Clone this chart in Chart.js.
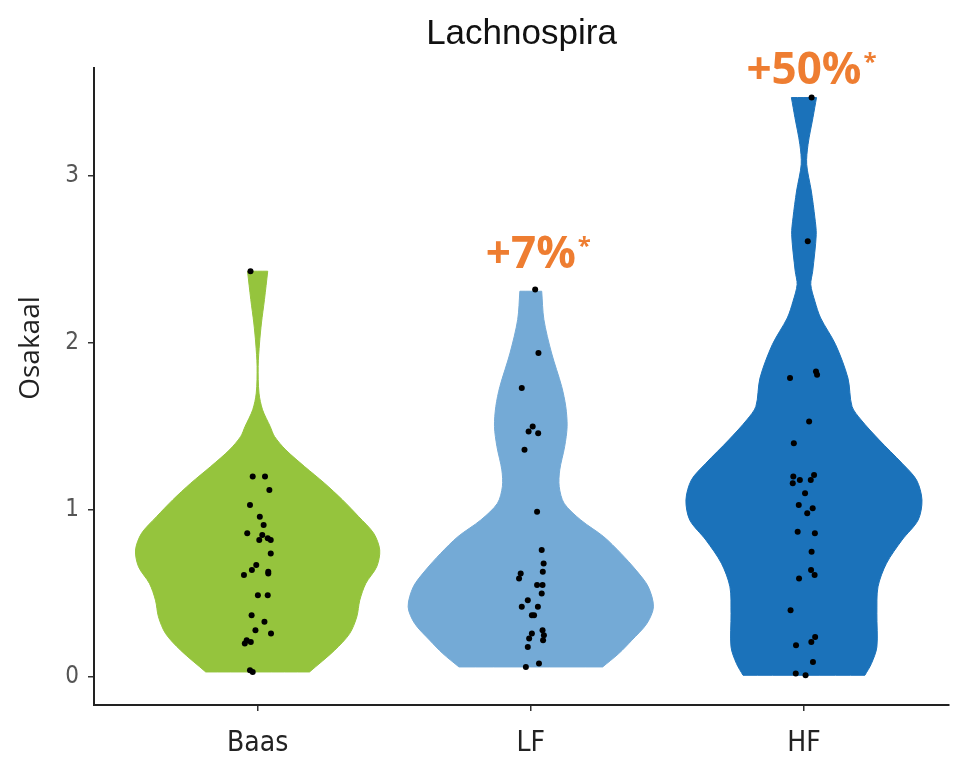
<!DOCTYPE html>
<html>
<head>
<meta charset="utf-8">
<script src="https://cdn.jsdelivr.net/npm/chart.js@4.4.1/dist/chart.umd.min.js"></script>
<style>
	html, body { margin: 0; padding: 0; background: #fff; overflow: hidden; }
	#wrap { width: 953px; height: 760px; }
</style>
</head>
<body>
<div id="wrap"><canvas id="violinChart"></canvas></div>
<script>
const groups = ["Baas", "LF", "HF"];
const yTicks = [0, 1, 2, 3];
const groupColors = ["#95C43D", "#74AAD6", "#1B72BA"];

// violin outlines: heights (top -> bottom) and half widths in x units
const baasLevels = [2.43, 2.26, 2.12, 2.0, 1.86, 1.7, 1.6, 1.5, 1.44, 1.36, 1.26, 1.16, 1.06, 0.96, 0.86, 0.76, 0.66, 0.56, 0.46, 0.36, 0.26, 0.16, 0.03];
const baasWidth = [0.037, 0.025, 0.014, 0.007, 0.002, 0.005, 0.018, 0.046, 0.062, 0.103, 0.172, 0.245, 0.311, 0.37, 0.425, 0.447, 0.436, 0.396, 0.374, 0.363, 0.337, 0.282, 0.19];
const lfLevels = [2.31, 2.14, 1.94, 1.74, 1.62, 1.5, 1.38, 1.24, 1.14, 1.04, 0.94, 0.84, 0.74, 0.64, 0.54, 0.42, 0.32, 0.22, 0.14, 0.06];
const lfWidth = [0.04, 0.048, 0.076, 0.113, 0.128, 0.133, 0.124, 0.106, 0.104, 0.122, 0.183, 0.267, 0.33, 0.385, 0.43, 0.449, 0.425, 0.37, 0.322, 0.263];
const hfLevels = [3.47, 3.35, 3.19, 3.07, 2.91, 2.75, 2.65, 2.43, 2.35, 2.25, 2.15, 1.99, 1.79, 1.62, 1.54, 1.42, 1.28, 1.18, 1.06, 0.94, 0.82, 0.68, 0.54, 0.38, 0.18, 0.08, 0.01];
const hfWidth = [0.046, 0.033, 0.015, 0.01, 0.027, 0.04, 0.045, 0.032, 0.025, 0.04, 0.061, 0.116, 0.161, 0.176, 0.209, 0.275, 0.359, 0.412, 0.432, 0.418, 0.359, 0.302, 0.271, 0.267, 0.267, 0.247, 0.223];

// individual samples and their horizontal jitter
const baasValues = [2.43, 1.2, 1.2, 1.12, 1.03, 0.96, 0.91, 0.86, 0.85, 0.82, 0.83, 0.82, 0.74, 0.67, 0.64, 0.61, 0.63, 0.62, 0.49, 0.49, 0.37, 0.33, 0.28, 0.26, 0.22, 0.2, 0.21, 0.04, 0.03];
const baasJitter = [-0.026, -0.018, 0.027, 0.043, -0.028, 0.008, 0.022, -0.038, 0.017, 0.006, 0.037, 0.048, 0.048, -0.005, -0.021, -0.05, 0.039, 0.039, 0.001, 0.037, -0.022, 0.025, -0.008, 0.049, -0.04, -0.047, -0.025, -0.028, -0.018];
const lfValues = [2.32, 1.94, 1.73, 1.5, 1.47, 1.46, 1.36, 0.99, 0.76, 0.68, 0.63, 0.62, 0.59, 0.55, 0.55, 0.5, 0.46, 0.42, 0.42, 0.37, 0.37, 0.28, 0.26, 0.25, 0.23, 0.22, 0.18, 0.08, 0.06];
const lfJitter = [0.016, 0.028, -0.033, 0.007, -0.008, 0.027, -0.023, 0.023, 0.04, 0.047, 0.044, -0.037, -0.043, 0.023, 0.043, 0.04, -0.011, -0.033, 0.026, 0.004, 0.012, 0.043, 0.004, 0.048, -0.006, 0.045, -0.011, 0.03, -0.018];
const hfValues = [3.47, 2.61, 1.79, 1.83, 1.81, 1.53, 1.4, 1.2, 1.16, 1.18, 1.18, 1.21, 1.1, 1.03, 1.01, 0.98, 0.87, 0.86, 0.75, 0.64, 0.61, 0.59, 0.4, 0.24, 0.21, 0.19, 0.09, 0.02, 0.01];
const hfJitter = [0.028, 0.014, -0.051, 0.044, 0.048, 0.019, -0.037, -0.039, -0.041, -0.015, 0.025, 0.037, 0.004, -0.019, 0.032, 0.012, -0.023, 0.04, 0.028, 0.026, 0.039, -0.018, -0.049, 0.041, 0.027, -0.029, 0.033, -0.03, 0.006];

// change vs Baas, shown above the violins
const changeText = ["", "+7%", "+50%"];
const changeY = [null, 2.45, 3.55];

function outline(center, levels, widths) {
	const pts = [];
	const last = levels.length - 1;
	// corner points are doubled so the spline keeps the flat ends square
	pts.push({ x: center - widths[last], y: levels[last] });
	for (let i = last; i >= 0; i--) {
		pts.push({ x: center - widths[i], y: levels[i] });
	}
	pts.push({ x: center - widths[0], y: levels[0] });
	pts.push({ x: center + widths[0], y: levels[0] });
	for (let i = 0; i <= last; i++) {
		pts.push({ x: center + widths[i], y: levels[i] });
	}
	pts.push({ x: center + widths[last], y: levels[last] });
	pts.push(pts[0]);
	return pts;
}

function samples(center, values, jitter) {
	return values.map((v, i) => ({ x: center + jitter[i], y: v }));
}

const violins = [
	outline(1, baasLevels, baasWidth),
	outline(2, lfLevels, lfWidth),
	outline(3, hfLevels, hfWidth),
];
const dots = [].concat(
	samples(1, baasValues, baasJitter),
	samples(2, lfValues, lfJitter),
	samples(3, hfValues, hfJitter),
);

const datasets = violins.map((pts, i) => ({
	label: groups[i],
	data: pts,
	showLine: true,
	fill: "shape",
	tension: 0.3,
	pointRadius: 0,
	borderWidth: 1,
	borderColor: groupColors[i],
	backgroundColor: groupColors[i],
	order: 2,
}));
datasets.push({
	label: "samples",
	data: dots,
	pointRadius: 3,
	pointBackgroundColor: "#000",
	pointBorderWidth: 0,
	showLine: false,
	order: 0,
});

const extraText = {
	id: "extraText",
	afterDatasetsDraw(chart) {
		const { ctx, scales } = chart;
		ctx.save();
		ctx.fillStyle = "#EE7D31";
		ctx.textBaseline = "alphabetic";
		for (let i = 0; i < groups.length; i++) {
			if (!changeText[i]) continue;
			const cx = scales.x.getPixelForValue(i + 1);
			const cy = scales.y.getPixelForValue(changeY[i]);
			ctx.font = 'bold 44px "Open Sans"';
			ctx.textAlign = "center";
			ctx.fillText(changeText[i], cx, cy);
			const w = ctx.measureText(changeText[i]).width;
			ctx.font = 'bold 24px "Open Sans"';
			ctx.textAlign = "left";
			ctx.fillText("*", cx + w / 2 + 2, cy - 14);
		}
		// y axis title
		ctx.translate(31, 348);
		ctx.rotate(-Math.PI / 2);
		ctx.fillStyle = "#222";
		ctx.font = '28px "Open Sans"';
		ctx.textAlign = "center";
		ctx.textBaseline = "middle";
		ctx.fillText("Osakaal", 0, 0);
		ctx.restore();
	},
};

const ctx = document.getElementById("violinChart");
new Chart(ctx, {
	type: "scatter",
	data: { datasets: datasets },
	options: {
		responsive: true,
		maintainAspectRatio: false,
		animation: false,
		layout: { padding: 0 },
		plugins: {
			legend: { display: false },
			tooltip: { enabled: false },
			title: {
				display: true,
				fullSize: false,
				text: "Lachnospira",
				color: "#111",
				font: { family: '"Liberation Sans", Arial', size: 35, weight: "normal" },
				padding: { top: 13, bottom: 13 },
			},
		},
		scales: {
			x: {
				type: "linear",
				min: 0.401,
				max: 3.531,
				afterBuildTicks: (scale) => {
					scale.ticks = groups.map((g, i) => ({ value: i + 1 }));
				},
				afterFit: (scale) => {
					scale.height = 55;
				},
				ticks: {
					autoSkip: false,
					maxRotation: 0,
					padding: 16,
					color: "#222",
					font: { family: '"Liberation Sans Narrow", "DejaVu Sans Condensed", sans-serif', size: 28 },
					callback: (v) => groups[v - 1],
				},
				grid: { drawOnChartArea: false, drawTicks: true, tickLength: 6, color: "#333", lineWidth: 1.5 },
				border: { display: true, color: "#222", width: 2 },
			},
			y: {
				type: "linear",
				min: -0.168,
				max: 3.647,
				afterBuildTicks: (scale) => {
					scale.ticks = yTicks.map((v) => ({ value: v }));
				},
				afterFit: (scale) => {
					scale.width = 94;
				},
				ticks: {
					padding: 9,
					color: "#555",
					font: { family: '"Liberation Sans Narrow", "DejaVu Sans Condensed", sans-serif', size: 24 },
				},
				grid: { drawOnChartArea: false, drawTicks: true, tickLength: 6, color: "#333", lineWidth: 1.5 },
				border: { display: true, color: "#222", width: 2 },
			},
		},
	},
	plugins: [extraText],
});
</script>
</body>
</html>
